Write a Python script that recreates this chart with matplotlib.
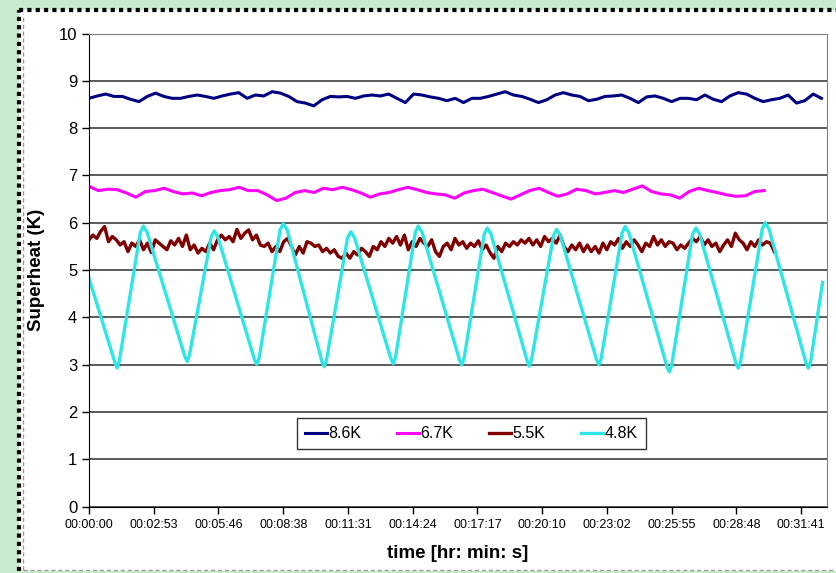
import numpy as np
import matplotlib
matplotlib.use("Agg")
import matplotlib.pyplot as plt
from matplotlib.lines import Line2D
from matplotlib.patches import Rectangle

plt.rcParams["font.family"] = ["Liberation Sans", "DejaVu Sans"]

# superheat logs, sampled at a steady rate (K)
sh_86_end = 1955
sh_86 = [8.63, 8.68, 8.72, 8.67, 8.67, 8.61, 8.56, 8.67, 8.74, 8.67, 8.63, 8.63, 8.67, 8.70, 8.67, 8.63,
         8.68, 8.72, 8.75, 8.63, 8.70, 8.68, 8.77, 8.74, 8.67, 8.56, 8.53, 8.47, 8.60, 8.67, 8.66,
         8.67, 8.63, 8.68, 8.70, 8.68, 8.72, 8.63, 8.54, 8.72, 8.70, 8.66, 8.63, 8.58, 8.63, 8.54,
         8.63, 8.63, 8.67, 8.72, 8.77, 8.70, 8.67, 8.61, 8.54, 8.60, 8.70, 8.75, 8.70,
         8.67, 8.58, 8.61, 8.67, 8.68, 8.70, 8.63, 8.54, 8.66, 8.68, 8.63, 8.56, 8.63, 8.63, 8.60,
         8.70, 8.61, 8.56, 8.68, 8.75, 8.72, 8.63, 8.56, 8.60, 8.63, 8.70, 8.53, 8.58, 8.72, 8.63]

sh_67_end = 1802
sh_67 = [6.77, 6.68, 6.71, 6.70, 6.63, 6.54, 6.66, 6.68, 6.73, 6.66, 6.61, 6.63, 6.57, 6.64, 6.68, 6.70,
         6.75, 6.68, 6.68, 6.59, 6.47, 6.52, 6.64, 6.68, 6.64, 6.73,
         6.70, 6.75, 6.70, 6.63, 6.54, 6.61, 6.64, 6.70, 6.75, 6.70, 6.64, 6.61, 6.59, 6.52, 6.63,
         6.68, 6.71, 6.64, 6.57, 6.50, 6.59, 6.68, 6.73, 6.64, 6.56, 6.61, 6.71,
         6.68, 6.61, 6.64, 6.68, 6.64, 6.71, 6.78, 6.66, 6.61, 6.59, 6.52, 6.66, 6.73, 6.68, 6.64,
         6.59, 6.56, 6.57, 6.66, 6.68]

sh_55_end = 1829
sh_55 = [5.64, 5.74, 5.67, 5.82, 5.92, 5.60, 5.71, 5.64, 5.53, 5.60, 5.39, 5.57, 5.50, 5.64, 5.43,
         5.57, 5.37, 5.64, 5.57, 5.50, 5.43, 5.62, 5.53, 5.67, 5.50, 5.74, 5.43, 5.53, 5.36, 5.46,
         5.39, 5.57, 5.43, 5.64, 5.74, 5.64, 5.71, 5.60, 5.86, 5.67, 5.78, 5.85, 5.64, 5.74, 5.53,
         5.50, 5.57, 5.39, 5.50, 5.39, 5.60, 5.67, 5.50, 5.32, 5.50, 5.36, 5.60, 5.57, 5.50, 5.53,
         5.39, 5.46, 5.36, 5.43, 5.29, 5.25,
         5.36, 5.25, 5.39, 5.32, 5.46, 5.39, 5.29, 5.50, 5.43, 5.60, 5.50, 5.67, 5.57, 5.71, 5.53,
         5.74, 5.43, 5.60, 5.50, 5.67, 5.57, 5.50, 5.64, 5.39, 5.29, 5.50, 5.57, 5.43, 5.67, 5.53,
         5.60, 5.46, 5.57, 5.50, 5.62, 5.43, 5.53, 5.37, 5.25, 5.50, 5.39, 5.57, 5.50, 5.60, 5.53,
         5.64, 5.57, 5.67, 5.53, 5.64, 5.50, 5.71, 5.60, 5.67, 5.57, 5.74, 5.50, 5.39, 5.53, 5.43,
         5.57, 5.39,
         5.53, 5.39, 5.50, 5.36, 5.57, 5.43, 5.60, 5.53, 5.67, 5.46, 5.60, 5.50, 5.64, 5.53, 5.39,
         5.57, 5.50, 5.71, 5.53, 5.64, 5.50, 5.60, 5.57, 5.43, 5.53, 5.46, 5.57, 5.67, 5.60, 5.71,
         5.53, 5.64, 5.50, 5.57, 5.39, 5.53, 5.64, 5.50, 5.78, 5.64, 5.57, 5.43, 5.60, 5.50, 5.64,
         5.53, 5.60, 5.57, 5.39]

# the 4.8K run hunts, so keep its turning points with their times (s)
t_48 = [0, 69, 75, 81, 137, 145, 155, 256, 262, 268, 326, 334, 344, 442, 448, 454, 510, 519, 529,
        622, 628, 634, 690, 699, 709, 806, 812, 818, 871, 879, 889, 989, 995, 1001, 1055, 1063, 1073,
        1170, 1175, 1181, 1240, 1248, 1258, 1355, 1361, 1367, 1423, 1431, 1441, 1543, 1549, 1555,
        1611, 1620, 1630, 1727, 1733, 1739, 1797, 1805, 1815, 1914, 1920, 1926, 1958]
sh_48 = [4.83, 3.05, 2.93, 3.08, 5.80, 5.93, 5.80, 3.17, 3.07, 3.20, 5.70, 5.83, 5.70, 3.10, 3.01,
         3.14, 5.85, 5.98, 5.85, 3.06, 2.96, 3.10, 5.68, 5.81, 5.68, 3.12, 3.02, 3.15, 5.80, 5.93,
         5.80, 3.10, 3.00, 3.13, 5.76, 5.89, 5.76, 3.07, 2.97, 3.10, 5.73, 5.86, 5.73, 3.10, 3.00,
         3.13, 5.79, 5.92, 5.79, 2.95, 2.85, 2.98, 5.76, 5.89, 5.76, 3.03, 2.93, 3.06, 5.87, 6.00,
         5.87, 3.03, 2.93, 3.06, 4.74]

tick_step = 172.8
tick_labels = ["00:00:00", "00:02:53", "00:05:46", "00:08:38", "00:11:31", "00:14:24",
               "00:17:17", "00:20:10", "00:23:02", "00:25:55", "00:28:48", "00:31:41"]

fig = plt.figure(figsize=(8.36, 5.73), dpi=100, facecolor="#c8ebcd")

# white page with a dotted frame on the left and top
W, H = 836.0, 573.0
fig.patches.append(Rectangle((19 / W, 2 / H), 1 - 19 / W, 1 - 12 / H, transform=fig.transFigure,
                             facecolor="white", edgecolor="none", zorder=-10))
fig.lines.append(Line2D([19 / W, 19 / W], [2 / H, 1 - 10 / H], transform=fig.transFigure,
                        color="black", lw=3, ls=(0, (1, 1)), zorder=-5))
fig.lines.append(Line2D([19 / W, 1], [1 - 10 / H, 1 - 10 / H], transform=fig.transFigure,
                        color="black", lw=3, ls=(0, (1, 1)), zorder=-5))
fig.lines.append(Line2D([23 / W, 23 / W], [3 / H, 1 - 14 / H], transform=fig.transFigure,
                        color="#9a9a9a", lw=1, ls=(0, (3, 2)), zorder=-5))
fig.lines.append(Line2D([23 / W, 1], [3 / H, 3 / H], transform=fig.transFigure,
                        color="#9a9a9a", lw=1, ls=(0, (3, 2)), zorder=-5))

ax = fig.add_axes([89 / W, 1 - 506.7 / H, 737.7 / W, 473.2 / H])
ax.set_zorder(5)

ax.plot(np.linspace(0, sh_86_end, len(sh_86)), sh_86, color="#000080", lw=2.2, label="8.6K")
ax.plot(np.linspace(0, sh_67_end, len(sh_67)), sh_67, color="#ff00ff", lw=2.2, label="6.7K")
ax.plot(np.linspace(0, sh_55_end, len(sh_55)), sh_55, color="#800000", lw=2.4, label="5.5K")
ax.plot(t_48, sh_48, color="#2ee6e6", lw=2.4, label="4.8K")

ax.set_xlim(0, 1969)
ax.set_ylim(0, 10)
ax.set_yticks(range(0, 11))
ax.set_xticks([i * tick_step for i in range(len(tick_labels))])
ax.set_xticklabels(tick_labels, fontsize=9)
ax.tick_params(axis="y", labelsize=12, length=5, width=1, direction="out")
ax.tick_params(axis="x", length=5, width=1, direction="out", pad=4)
ax.yaxis.grid(True, color="#404040", lw=1.2)
ax.set_axisbelow(True)

for side in ["top", "right"]:
    ax.spines[side].set_color("#808080")
ax.spines["left"].set_color("black")
ax.spines["bottom"].set_color("black")

ax.set_ylabel("Superheat (K)", fontsize=13.5, fontweight="bold", labelpad=10)
ax.set_xlabel("time [hr: min: s]", fontsize=13.5, fontweight="bold", labelpad=10)

leg = ax.legend(loc="center", bbox_to_anchor=(0.518, 0.154), ncol=4, fontsize=11.5, frameon=True,
                fancybox=False, edgecolor="black", handlelength=1.4, handletextpad=0.1,
                columnspacing=2.2, borderpad=0.5)
leg.get_frame().set_linewidth(1)

fig.savefig("out.png", dpi=100, facecolor=fig.get_facecolor())
